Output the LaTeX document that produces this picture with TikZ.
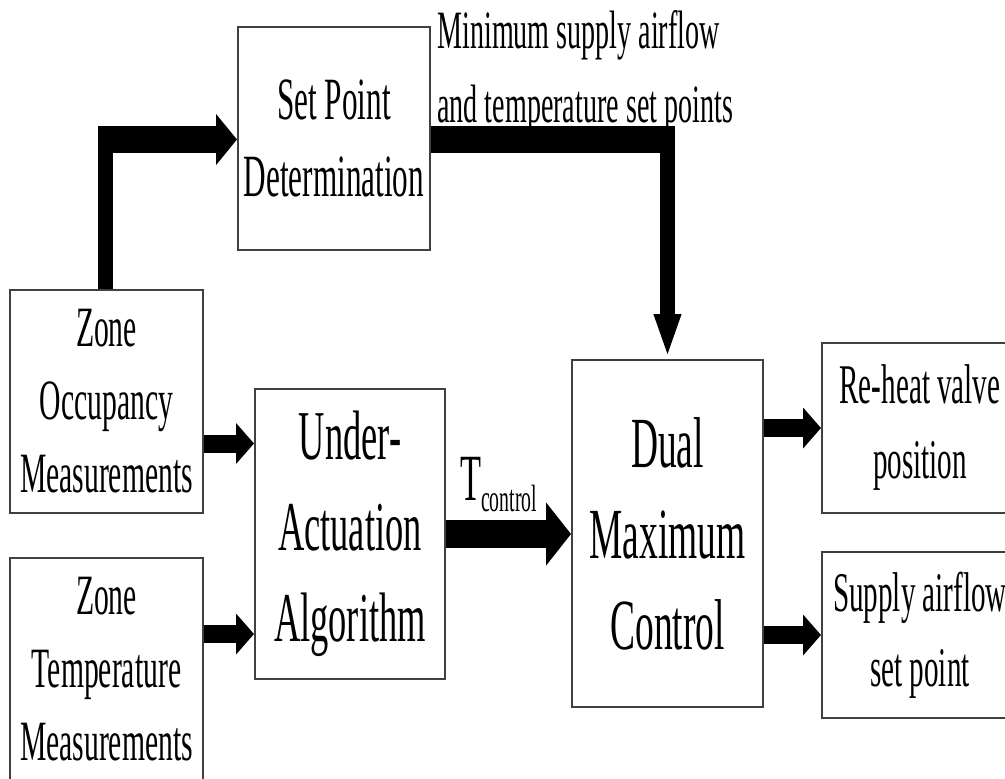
\documentclass[tikz,border=0pt]{standalone}
\usepackage{fontspec}
\setmainfont{Liberation Serif}[FakeStretch=0.52]
\usetikzlibrary{arrows.meta}
\tikzset{
  FB/.style={rectangle,draw=black!75,line width=1pt,inner sep=0pt,
             text centered,align=center},
  fSP/.style={font=\fontsize{30}{38.5}\selectfont},
  fZN/.style={font=\fontsize{28.5}{36.5}\selectfont},
  fUA/.style={font=\fontsize{35}{45.5}\selectfont},
  fDM/.style={font=\fontsize{36}{45.5}\selectfont},
  fOT/.style={font=\fontsize{28}{37.5}\selectfont},
  arrH/.style={-{Triangle[length=10.5pt,width=25pt]},line width=13.5pt},
  arrV/.style={-{Triangle[length=22.5pt,width=12pt]},line width=7.5pt},
  arrS/.style={-{Triangle[length=9pt,width=20pt]},line width=9pt},
  arrT/.style={-{Triangle[length=12.5pt,width=31pt]},line width=14pt},
  barH/.style={line width=13.5pt},
  barV/.style={line width=7.5pt}
}

\begin{document}
\begin{tikzpicture}[x=0.5pt,y=-0.5pt]
  \useasboundingbox (0,0) rectangle (1005,778);

  \node[FB,fSP,minimum width=96pt,minimum height=111.5pt] (sp) at (334,138) {Set Point\\Determination};
  \node[FB,fZN,minimum width=96.5pt,minimum height=111.5pt] (zo) at (106.5,401.5) {Zone\\Occupancy\\Measurements};
  \node[FB,fZN,minimum width=96.5pt,minimum height=111.5pt] (zt) at (106.5,669.5) {Zone\\Temperature\\Measurements};
  \node[FB,fUA,minimum width=95pt,minimum height=145pt] (ua) at (350,534) {Under-\\Actuation\\Algorithm};
  \node[FB,fDM,minimum width=95.5pt,minimum height=173.5pt] (dm) at (667.5,533.5) {Dual\\Maximum\\Control};
  \node[FB,fOT,minimum width=98pt,minimum height=85pt] (rh) at (920,428) {Re-heat valve\\position};
  \node[FB,fOT,minimum width=98pt,minimum height=83pt] (sa) at (920,635) {Supply airflow\\set point};

  \node[anchor=west,align=left,inner sep=0pt,font=\fontsize{27}{37}\selectfont] (lbl) at (437,72) {Minimum supply airflow\\and temperature set points};

  \coordinate (k1) at (105.5,139.5);
  \coordinate (k2) at (dm.north |- k1);

  \draw[barV] (zo.north -| k1) -- ([yshift=6.75pt]k1);
  \draw[arrH] ([xshift=-3.75pt]k1) -- (sp.west |- k1);
  \draw[barH] (sp.east |- k1) -- ([xshift=3.75pt]k2);
  \draw[arrV] ([yshift=6.75pt]k2) -- (dm.north);

  \draw[arrS] (zo.east |- 0,443.5) -- (ua.west |- 0,443.5);
  \draw[arrS] (zt.east |- 0,634) -- (ua.west |- 0,634);
  \draw[arrT] (ua.east) -- (ua.east -| dm.west)
    node[pos=0.42,above=4pt,inner sep=0pt,font=\fontsize{33}{33}\selectfont] (tc) {T\raisebox{-5.5pt}{\fontsize{19}{19}\selectfont control}};
  \draw[arrS] (dm.east |- rh) -- (rh);
  \draw[arrS] (dm.east |- sa) -- (sa);
\end{tikzpicture}
\end{document}
